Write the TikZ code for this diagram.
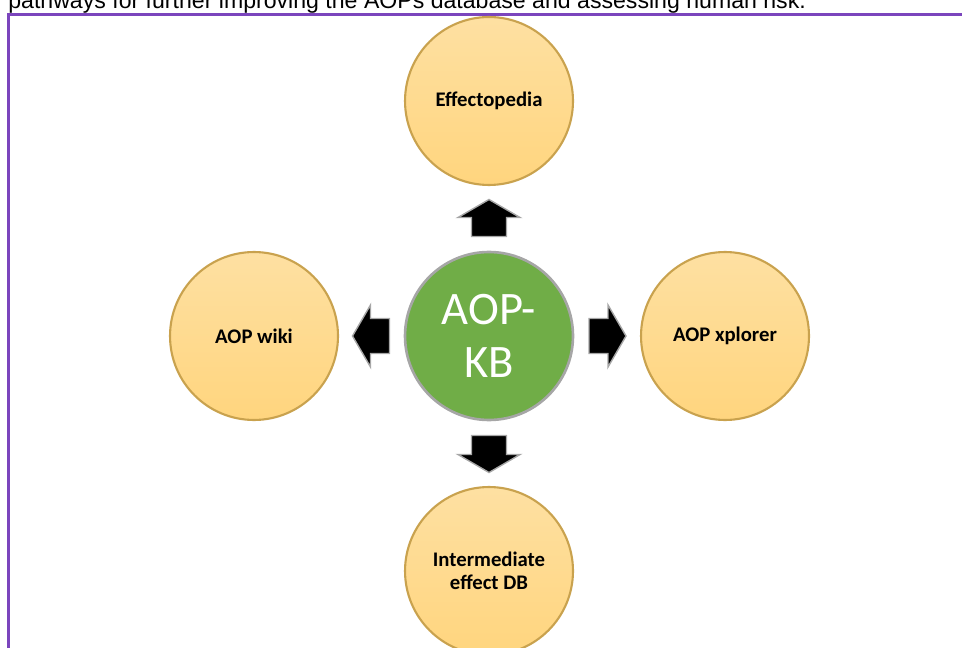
\documentclass[tikz,border=0pt]{standalone}
\usepackage{fontspec}
\setmainfont{Carlito}
\newfontfamily\captionfont{Liberation Sans}
\usetikzlibrary{calc}
\definecolor{AOP_PeachTop}{HTML}{FEE0A2}
\definecolor{AOP_PeachBot}{HTML}{FFD57E}
\definecolor{AOP_Gold}{HTML}{C9A24E}
\definecolor{AOP_Green}{HTML}{70AD47}
\definecolor{AOP_Gray}{HTML}{A6A6A6}
\definecolor{AOP_Purple}{HTML}{7B45BD}
\definecolor{AOP_Lilac}{HTML}{CDB8EA}

\begin{document}
\begin{tikzpicture}[x=0.02cm, y=-0.02cm,
    tool/.style={circle, draw=AOP_Gold, line width=1.2pt, top color=AOP_PeachTop, bottom color=AOP_PeachBot, minimum size=3.36cm, inner sep=0pt, align=center, font=\fontsize{11.8}{13.2}\selectfont\bfseries},
    hub/.style={circle, draw=AOP_Gray, line width=1.5pt, fill=AOP_Green, minimum size=3.36cm, inner sep=0pt, align=center, text=white, font=\fontsize{26.5}{30}\selectfont},
    blockarr/.pic={\draw[fill=black, draw=AOP_Gray, line width=0.8pt, line join=miter] (-18,-17.5) -- (1,-17.5) -- (1,-31) -- (19,0) -- (1,31) -- (1,17.5) -- (-18,17.5) -- cycle;}]
    \clip (0,0) rectangle (962,648);

    % Cropped caption line and page frame
    \node[anchor=base west, inner sep=0pt, font=\captionfont\fontsize{13.15}{15}\selectfont] (caption) at (8,9) {pathways for further improving the AOPs database and assessing human risk.};
    \draw[AOP_Lilac, line width=2pt] (8.5,660) -- (8.5,14.5) -- (970,14.5);
    \draw[AOP_Purple, line width=1.2pt] (8.5,660) -- (8.5,14.5) -- (970,14.5);

    % Hub and the four tools
    \node[hub] (aopkb) at (489,336) {AOP-\\KB};
    \node[tool] (effecto) at (489,101) {Effectopedia};
    \node[tool] (wiki) at (254,336) {AOP wiki};
    \node[tool] (xplorer) at (725,336) {AOP xplorer};
    \node[tool] (interdb) at (489,571) {Intermediate\\effect DB};

    % Block arrows halfway between hub and tools
    \pic[rotate=90] (arrUp) at ($(aopkb)!0.5!(effecto)$) {blockarr};
    \pic[rotate=180] (arrLeft) at ($(aopkb)!0.5!(wiki)$) {blockarr};
    \pic (arrRight) at ($(aopkb)!0.5!(xplorer)$) {blockarr};
    \pic[rotate=-90] (arrDown) at ($(aopkb)!0.5!(interdb)$) {blockarr};
\end{tikzpicture}
\end{document}
